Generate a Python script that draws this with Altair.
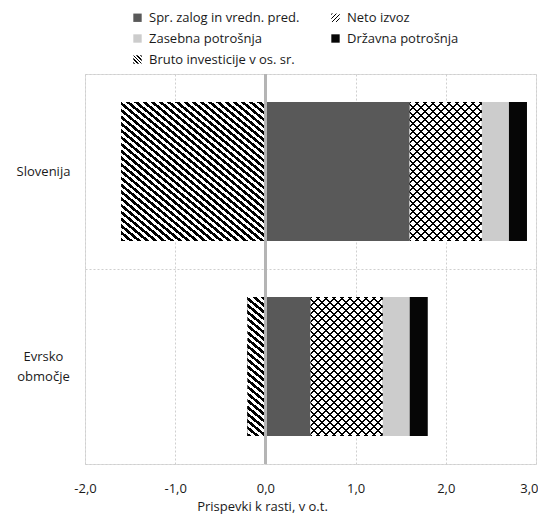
import math
import altair as alt
import pandas as pd

# ---- data ----
categories = ["Slovenija", "Evrsko območje"]
series = [
    "Spr. zalog in vredn. pred.",
    "Neto izvoz",
    "Zasebna potrošnja",
    "Državna potrošnja",
    "Bruto investicije v os. sr.",
]
slovenija = [1.6, 0.8, 0.3, 0.2, -1.6]
evrsko = [0.5, 0.8, 0.3, 0.2, -0.2]
x_ticks = [-2, -1, 0, 1, 2, 3]
# legend reads row by row: Spr / Neto, Zasebna / Državna, Bruto
legend_order = [series[0], series[2], series[4], series[1], series[3]]

rows = []
for cat, vals in zip(categories, [slovenija, evrsko]):
    for i, (s, v) in enumerate(zip(series, vals)):
        rows.append({"cat": cat, "series": s, "value": v, "order": i})
df = pd.DataFrame(rows)

# ---- layout / style ----
FONT = "Open Sans"
PLOT_W, PLOT_H = 451, 390
BAR = 139
XMIN, XMAX = -2, 3
PPU = PLOT_W / (XMAX - XMIN)


def stripe_stops(n, duty, back):
    stops = []
    for i in range(math.ceil(n)):
        a = i / n
        b = min((i + duty) / n, 1)
        c = min((i + 1) / n, 1)
        stops += [
            {"offset": round(a, 5), "color": "#000000"},
            {"offset": round(b, 5), "color": "#000000"},
            {"offset": round(b, 5), "color": back},
            {"offset": round(c, 5), "color": back},
        ]
    return stops


def stripes(W, H, px, py, duty, back, direction):
    n = W / px + H / py
    A = W / (px * n)
    B = H / (py * n)
    s = A * A + B * B
    if direction == "down":
        x1, y1, x2, y2 = 0, 1, A / s, 1 - B / s
    else:
        x1, y1, x2, y2 = 0, 0, A / s, B / s
    return {"gradient": "linear", "x1": round(x1, 5), "y1": round(y1, 5),
            "x2": round(x2, 5), "y2": round(y2, 5),
            "stops": stripe_stops(n, duty, back)}


def to_expr(g):
    st = ",".join("{offset:%s,color:'%s'}" % (s["offset"], s["color"]) for s in g["stops"])
    return "{gradient:'linear',x1:%s,y1:%s,x2:%s,y2:%s,stops:[%s]}" % (
        g["x1"], g["y1"], g["x2"], g["y2"], st)


# legend swatches
leg_neto = stripes(9, 9, 4.5, 4.5, 0.35, "#ffffff", "up")
leg_bruto = stripes(9, 9, 4, 4, 0.5, "#ffffff", "down")
swatch = {
    series[0]: "#595959",
    series[1]: {"expr": to_expr(leg_neto)},
    series[2]: "#cccccc",
    series[3]: "#060606",
    series[4]: {"expr": to_expr(leg_bruto)},
}
color_range = [swatch[s] for s in legend_order]

# bar patterns
w_bruto_slo = abs(slovenija[4]) * PPU
w_bruto_ea = abs(evrsko[4]) * PPU
w_neto = slovenija[1] * PPU
g_bruto_slo = stripes(w_bruto_slo, BAR, 8.2, 6.8, 0.5, "#ffffff", "down")
g_bruto_ea = stripes(w_bruto_ea, BAR, 8.2, 6.8, 0.5, "#ffffff", "down")
g_neto_a = stripes(w_neto, BAR, 8, 8, 0.22, "#ffffff", "down")
g_neto_b = stripes(w_neto, BAR, 8, 8, 0.22, "rgba(255,255,255,0)", "up")

last_tick = f"datum.value == {x_ticks[-1]}"
x_enc = alt.X(
    "x0:Q",
    scale=alt.Scale(domain=[XMIN, XMAX], nice=False, zero=False),
    axis=alt.Axis(
        values=x_ticks,
        labelExpr="replace(replace(format(datum.value, '.1f'), '.', ','), '\u2212', '-')",
        labelFlush=False,
        labelOverlap=False,
        labelAlign={"condition": {"test": last_tick, "value": "right"}, "value": "center"},
        labelOffset={"condition": {"test": last_tick, "value": 2}, "value": 0},
        title="Prispevki k rasti, v o.t.",
        titleX=177,
        titleFontWeight="normal",
        titleFontSize=13,
        titleFont=FONT,
        titleColor="#1a1a1a",
        titlePadding=5,
        labelPadding=18,
        labelFontSize=13,
        labelFont=FONT,
        labelColor="#1a1a1a",
        ticks=False,
        domain=False,
        grid=True,
        gridDash=[2, 2],
        gridColor="#cfcfcf",
        gridWidth=1,
    ),
)
y_enc = alt.Y(
    "cat:N",
    sort=categories,
    scale=alt.Scale(paddingInner=0, paddingOuter=0),
    axis=alt.Axis(
        title=None,
        labelExpr="split(datum.label, ' ')",
        labelAlign="center",
        labelBaseline="middle",
        labelOffset={"condition": {"test": f"datum.value == '{categories[1]}'", "value": -10},
                     "value": 0},
        labelPadding=42,
        labelLineHeight=20,
        labelFontSize=13,
        labelFont=FONT,
        labelColor="#1a1a1a",
        ticks=False,
        domain=False,
        grid=True,
        tickBand="extent",
        gridDash=[2, 2],
        gridColor="#cfcfcf",
    ),
)

base = alt.Chart(df).transform_stack(
    stack="value", groupby=["cat"], as_=["x0", "x1"],
    sort=[alt.SortField("order", order="ascending")],
)

bars = base.mark_bar(size=BAR).encode(
    x=x_enc,
    x2="x1:Q",
    y=y_enc,
    color=alt.Color(
        "series:N",
        scale=alt.Scale(domain=legend_order, range=color_range),
        legend=alt.Legend(
            orient="none",
            legendX=46,
            legendY=-63,
            columns=2,
            title=None,
            labelFont=FONT,
            labelFontSize=13,
            labelColor="#1a1a1a",
            symbolType="square",
            symbolSize=70,
            symbolStrokeWidth=0,
            labelOffset=5,
            columnPadding=29,
            rowPadding=7,
            labelLimit=300,
        ),
    ),
)


def overlay(cond, fill):
    return base.transform_filter(cond).mark_bar(size=BAR, fill=fill).encode(
        x=x_enc, x2="x1:Q", y=y_enc)


bruto = series[4]
neto = series[1]
ov1 = overlay(f"datum.series == '{bruto}' && datum.cat == '{categories[0]}'", g_bruto_slo)
ov2 = overlay(f"datum.series == '{bruto}' && datum.cat == '{categories[1]}'", g_bruto_ea)
ov3 = overlay(f"datum.series == '{neto}'", g_neto_a)
ov4 = overlay(f"datum.series == '{neto}'", g_neto_b)

zero = alt.Chart(df).mark_rule(color="#b5b5b5", strokeWidth=2).encode(
    x=alt.X(datum=0, type="quantitative"))

chart = alt.layer(bars, ov1, ov2, ov3, ov4, zero).properties(
    width=PLOT_W,
    height=PLOT_H,
    autosize=alt.AutoSizeParams(type="none"),
    padding={"left": 77, "top": 66, "right": 2, "bottom": 50},
).configure_view(stroke="#c6c6c6", strokeWidth=1.5).configure(background="white")

chart.save("out.html", embed_options={"renderer": "svg", "actions": False})
